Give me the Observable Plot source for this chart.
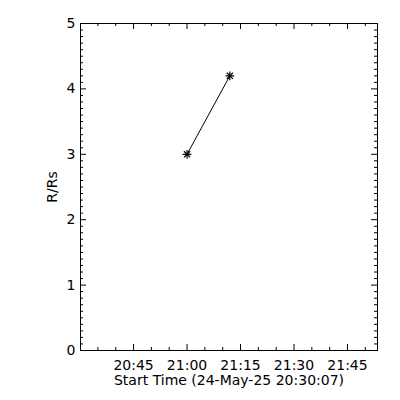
<!DOCTYPE html>
<html><head><meta charset="utf-8">
<script src="https://cdn.jsdelivr.net/npm/d3@7"></script>
<script src="https://cdn.jsdelivr.net/npm/@observablehq/plot@0.6"></script>
<style>body{margin:0;background:#fff}</style>
</head><body><div id="chart"></div>
<script>
// data
const startTimes = ["2025-05-24T21:00:00Z", "2025-05-24T21:12:00Z"];
const heights = [3.0, 4.2];
const xDomain = ["2025-05-24T20:30:07Z", "2025-05-24T21:53:25Z"];
const xTickTimes = ["2025-05-24T20:45:00Z", "2025-05-24T21:00:00Z", "2025-05-24T21:15:00Z", "2025-05-24T21:30:00Z", "2025-05-24T21:45:00Z"];
const yTicks = [0, 1, 2, 3, 4, 5];
const yLabel = "R/Rs";
const xLabel = "Start Time (24-May-25 20:30:07)";

const data = startTimes.map((t, i) => ({t: new Date(t), r: heights[i]}));
const W = 400, H = 400, mL = 80, mR = 23, mT = 23, mB = 50;
const pw = W - mL - mR, ph = H - mT - mB;
const xMajor = xTickTimes.map(d => new Date(d));
const xMinor = d3.utcMinute.every(5).range(new Date(xDomain[0]), new Date(xDomain[1]))
  .filter(d => d.getUTCMinutes() % 15 !== 0);
const yMinor = d3.range(0, 50).filter(i => i % 10 !== 0).map(i => i / 10);
const M = 6, m = 3;

const chart = Plot.plot({
  width: W, height: H,
  marginLeft: mL, marginRight: mR, marginTop: mT, marginBottom: mB,
  style: {fontFamily: "DejaVu Sans", fontSize: "14px", background: "white", color: "black"},
  x: {type: "utc", domain: xDomain.map(d => new Date(d))},
  y: {domain: [0, 5]},
  marks: [
    Plot.axisX(xMajor, {tickSize: 0, tickPadding: 10, tickFormat: d3.utcFormat("%H:%M"), label: null, fill: "black"}),
    Plot.axisY(yTicks, {tickSize: 0, tickPadding: 5, tickFormat: d => String(d), label: null, fill: "black"}),
    // bottom & top ticks
    Plot.ruleX(xMajor, {insetTop: ph - M, stroke: "black"}),
    Plot.ruleX(xMajor, {insetBottom: ph - M, stroke: "black"}),
    Plot.ruleX(xMinor, {insetTop: ph - m, stroke: "black"}),
    Plot.ruleX(xMinor, {insetBottom: ph - m, stroke: "black"}),
    // left & right ticks
    Plot.ruleY(yTicks, {insetRight: pw - M, stroke: "black"}),
    Plot.ruleY(yTicks, {insetLeft: pw - M, stroke: "black"}),
    Plot.ruleY(yMinor, {insetRight: pw - m, stroke: "black"}),
    Plot.ruleY(yMinor, {insetLeft: pw - m, stroke: "black"}),
    Plot.frame({stroke: "black"}),
    Plot.text([xLabel], {frameAnchor: "bottom", dy: 30, lineAnchor: "middle", textAnchor: "middle", fill: "black"}),
    Plot.text([yLabel], {frameAnchor: "left", dx: -28, rotate: -90, lineAnchor: "middle", textAnchor: "middle", fill: "black"}),
    Plot.line(data, {x: "t", y: "r", stroke: "black", strokeWidth: 1}),
    Plot.dot(data, {x: "t", y: "r", symbol: "plus", r: 2.9, stroke: "black", strokeWidth: 1.2}),
    Plot.dot(data, {x: "t", y: "r", symbol: "times", r: 2.9, stroke: "black", strokeWidth: 1.2})
  ]
});
document.getElementById("chart").appendChild(chart);
</script>
</body></html>
